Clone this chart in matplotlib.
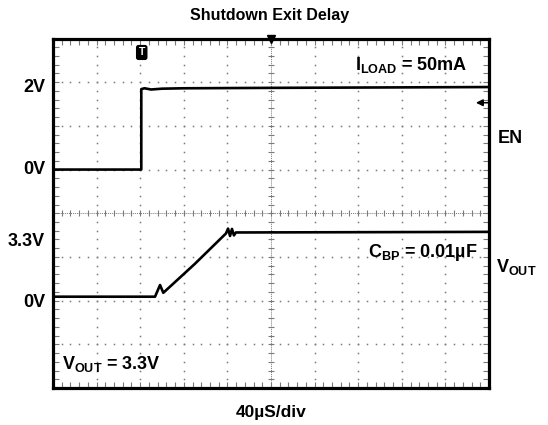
import numpy as np
import matplotlib
matplotlib.use("Agg")
import matplotlib.pyplot as plt
from matplotlib.ticker import MultipleLocator
import matplotlib.transforms as mtransforms

plt.rcParams['font.family'] = ['Liberation Sans', 'DejaVu Sans']
plt.rcParams['font.weight'] = 'bold'
plt.rcParams['mathtext.fontset'] = 'custom'
plt.rcParams['mathtext.rm'] = 'Liberation Sans:bold'
plt.rcParams['mathtext.it'] = 'Liberation Sans:bold'
plt.rcParams['mathtext.bf'] = 'Liberation Sans:bold'

# EN channel (time in us, volts)
en_t = [0, 81, 81, 84, 90, 100, 120, 200, 300, 400]
en_v = [0, 0, 1.97, 1.99, 1.96, 1.98, 1.99, 2.00, 2.01, 2.02]

# VOUT channel (time in us, volts)
vout_t = [0, 93.6, 98.2, 101.2, 130.0, 158.7, 160.6, 162.4, 164.2, 166.0, 167.8, 170, 250, 400]
vout_v = [0, 0, 0.60, 0.20, 1.68, 3.25, 3.50, 3.12, 3.48, 3.15, 3.30, 3.30, 3.31, 3.33]

# scope channel settings (divisions)
en_zero, en_scale = 1.0, 0.935
vout_zero, vout_scale = -1.91, 0.4455

gray = '#7a7a7a'

fig = plt.figure(figsize=(5.48, 4.25), dpi=100)
ax = fig.add_axes([53 / 548, 1 - 388 / 425, 436 / 548, 349.5 / 425])
ax.set_xlim(0, 400)
ax.set_ylim(-4, 4)

# graticule
ax.xaxis.set_major_locator(MultipleLocator(40))
ax.yaxis.set_major_locator(MultipleLocator(1))
ax.xaxis.set_minor_locator(MultipleLocator(8))
ax.yaxis.set_minor_locator(MultipleLocator(0.2))
ax.tick_params(which='both', direction='in', top=True, right=True, length=4,
               width=0.8, color=gray, labelleft=False, labelbottom=False)
for s in ax.spines.values():
    s.set_linewidth(2.3)
    s.set_zorder(5)

xs = np.arange(0, 401, 8)
ys = np.arange(-4, 4.01, 0.2)
for yv in [-3, -2, -1, 1, 2, 3]:
    ax.plot(xs, [yv] * len(xs), ls='none', marker='s', ms=1.1, mew=0, color=gray)
for xv in [40, 80, 120, 160, 240, 280, 320, 360]:
    ax.plot([xv] * len(ys), ys, ls='none', marker='s', ms=1.1, mew=0, color=gray)

# centre lines
ax.axhline(0, color=gray, lw=0.7, ls=(0, (1, 1)))
ax.axvline(200, color=gray, lw=0.7, ls=(0, (1, 1)))
ax.plot(xs, [0] * len(xs), ls='none', marker='|', ms=4, mew=0.8, color=gray)
ax.plot([200] * len(ys), ys, ls='none', marker='_', ms=4, mew=0.8, color=gray)

# traces
ax.plot(en_t, en_zero + np.array(en_v) * en_scale, color='black', lw=1.9, zorder=4)
ax.plot(vout_t, vout_zero + np.array(vout_v) * vout_scale, color='black', lw=1.9, zorder=4)

# markers: trigger, centre, level arrow
ax.text(81.4, 3.68, 'T', color='white', fontsize=7.5, ha='center', va='center',
        bbox=dict(boxstyle='round,pad=0.18', fc='black', ec='black'), zorder=6)
ax.plot([200], [4.0], marker='v', ms=6, color='black', clip_on=False, zorder=6)
ax.annotate('', xy=(388, 2.53), xytext=(400, 2.53),
            arrowprops=dict(arrowstyle='-|>', color='black', lw=1.1,
                            mutation_scale=10, shrinkA=0, shrinkB=0), zorder=6)

# labels
lab = mtransforms.blended_transform_factory(ax.transAxes, ax.transData)
fs = 13
ax.text(-0.018, 2.875, '2V', transform=lab, ha='right', va='center', fontsize=fs)
ax.text(-0.018, 0.99, '0V', transform=lab, ha='right', va='center', fontsize=fs)
ax.text(-0.018, -0.65, '3.3V', transform=lab, ha='right', va='center', fontsize=fs)
ax.text(-0.018, -2.04, '0V', transform=lab, ha='right', va='center', fontsize=fs)
ax.text(1.02, 1.60, 'EN', transform=lab, ha='left', va='baseline', fontsize=fs)
ax.text(1.017, -1.345, r'V$_\mathregular{OUT}$', transform=lab, ha='left',
        va='baseline', fontsize=fs)

ax.text(277, 3.283, r'I$_\mathregular{LOAD}$ = 50mA', ha='left', va='baseline', fontsize=fs)
ax.text(288.6, -1.007, r'C$_\mathregular{BP}$ = 0.01µF', ha='left', va='baseline', fontsize=fs)
ax.text(8.3, -3.556, r'V$_\mathregular{OUT}$ = 3.3V', ha='left', va='baseline', fontsize=fs)

fig.text(270 / 548, 1 - 19.7 / 425, 'Shutdown Exit Delay', ha='center', va='baseline',
         fontsize=11.5)
fig.text(271 / 548, 1 - 416.5 / 425, '40µS/div', ha='center', va='baseline', fontsize=12.5)

fig.savefig('out.png', dpi=100)
